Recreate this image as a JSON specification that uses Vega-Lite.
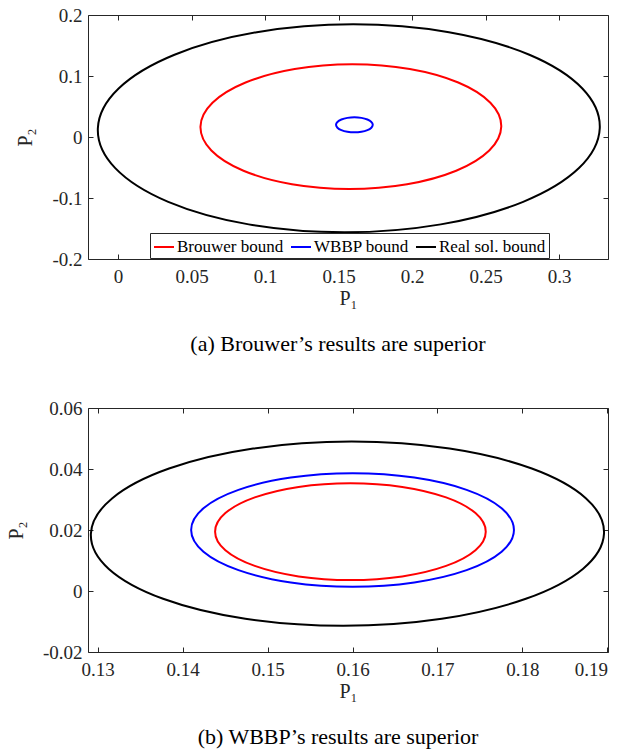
{
  "$schema": "https://vega.github.io/schema/vega-lite/v6.json",
  "background": "white",
  "padding": {"left": 5, "top": 5, "right": 5, "bottom": 5},
  "config": {
    "font": "'Liberation Serif', 'Times New Roman', Times, serif",
    "view": {"stroke": "#262626", "strokeWidth": 1},
    "axis": {
      "grid": false, "domain": false, "tickSize": -5, "tickColor": "#262626", "tickWidth": 1,
      "labelColor": "#262626", "labelFont": "'Liberation Serif', 'Times New Roman', Times, serif", "labelFontSize": 19,
      "titleFont": "'Liberation Serif', 'Times New Roman', Times, serif", "titleFontSize": 20, "titleFontWeight": "normal", "titleColor": "#262626"
    },
    "axisX": {"labelPadding": 13, "titlePadding": 2},
    "axisY": {"labelPadding": 11, "titlePadding": 16},
    "title": {"font": "'Liberation Serif', 'Times New Roman', Times, serif", "fontSize": 22, "fontWeight": "normal", "color": "#000000"}
  },
  "datasets": {
    "a": [
      {"bound": "Real sol. bound", "k": 0, "P1": 0.3277, "P2": 0.0143},
      {"bound": "Real sol. bound", "k": 1, "P1": 0.31586, "P2": 0.07955},
      {"bound": "Real sol. bound", "k": 2, "P1": 0.27982, "P2": 0.13486},
      {"bound": "Real sol. bound", "k": 3, "P1": 0.2251, "P2": 0.17182},
      {"bound": "Real sol. bound", "k": 4, "P1": 0.16, "P2": 0.1848},
      {"bound": "Real sol. bound", "k": 5, "P1": 0.09444, "P2": 0.17182},
      {"bound": "Real sol. bound", "k": 6, "P1": 0.03842, "P2": 0.13486},
      {"bound": "Real sol. bound", "k": 7, "P1": 0.00044, "P2": 0.07955},
      {"bound": "Real sol. bound", "k": 8, "P1": -0.0137, "P2": 0.0143},
      {"bound": "Real sol. bound", "k": 9, "P1": -0.00186, "P2": -0.05095},
      {"bound": "Real sol. bound", "k": 10, "P1": 0.03418, "P2": -0.10626},
      {"bound": "Real sol. bound", "k": 11, "P1": 0.0889, "P2": -0.14322},
      {"bound": "Real sol. bound", "k": 12, "P1": 0.154, "P2": -0.1562},
      {"bound": "Real sol. bound", "k": 13, "P1": 0.21956, "P2": -0.14322},
      {"bound": "Real sol. bound", "k": 14, "P1": 0.27558, "P2": -0.10626},
      {"bound": "Real sol. bound", "k": 15, "P1": 0.31356, "P2": -0.05095},
      {"bound": "Brouwer bound", "k": 0, "P1": 0.2607, "P2": 0.017},
      {"bound": "Brouwer bound", "k": 1, "P1": 0.25329, "P2": 0.05611},
      {"bound": "Brouwer bound", "k": 2, "P1": 0.23145, "P2": 0.08927},
      {"bound": "Brouwer bound", "k": 3, "P1": 0.19847, "P2": 0.11142},
      {"bound": "Brouwer bound", "k": 4, "P1": 0.1594, "P2": 0.1192},
      {"bound": "Brouwer bound", "k": 5, "P1": 0.12017, "P2": 0.11142},
      {"bound": "Brouwer bound", "k": 6, "P1": 0.08677, "P2": 0.08927},
      {"bound": "Brouwer bound", "k": 7, "P1": 0.06427, "P2": 0.05611},
      {"bound": "Brouwer bound", "k": 8, "P1": 0.0561, "P2": 0.017},
      {"bound": "Brouwer bound", "k": 9, "P1": 0.06351, "P2": -0.02211},
      {"bound": "Brouwer bound", "k": 10, "P1": 0.08535, "P2": -0.05527},
      {"bound": "Brouwer bound", "k": 11, "P1": 0.11833, "P2": -0.07742},
      {"bound": "Brouwer bound", "k": 12, "P1": 0.1574, "P2": -0.0852},
      {"bound": "Brouwer bound", "k": 13, "P1": 0.19663, "P2": -0.07742},
      {"bound": "Brouwer bound", "k": 14, "P1": 0.23003, "P2": -0.05527},
      {"bound": "Brouwer bound", "k": 15, "P1": 0.25253, "P2": -0.02211},
      {"bound": "WBBP bound", "k": 0, "P1": 0.1733, "P2": 0.02},
      {"bound": "WBBP bound", "k": 1, "P1": 0.17235, "P2": 0.02471},
      {"bound": "WBBP bound", "k": 2, "P1": 0.16964, "P2": 0.0287},
      {"bound": "WBBP bound", "k": 3, "P1": 0.16558, "P2": 0.03136},
      {"bound": "WBBP bound", "k": 4, "P1": 0.1608, "P2": 0.0323},
      {"bound": "WBBP bound", "k": 5, "P1": 0.15602, "P2": 0.03136},
      {"bound": "WBBP bound", "k": 6, "P1": 0.15196, "P2": 0.0287},
      {"bound": "WBBP bound", "k": 7, "P1": 0.14925, "P2": 0.02471},
      {"bound": "WBBP bound", "k": 8, "P1": 0.1483, "P2": 0.02},
      {"bound": "WBBP bound", "k": 9, "P1": 0.14925, "P2": 0.01529},
      {"bound": "WBBP bound", "k": 10, "P1": 0.15196, "P2": 0.0113},
      {"bound": "WBBP bound", "k": 11, "P1": 0.15602, "P2": 0.00864},
      {"bound": "WBBP bound", "k": 12, "P1": 0.1608, "P2": 0.0077},
      {"bound": "WBBP bound", "k": 13, "P1": 0.16558, "P2": 0.00864},
      {"bound": "WBBP bound", "k": 14, "P1": 0.16964, "P2": 0.0113},
      {"bound": "WBBP bound", "k": 15, "P1": 0.17235, "P2": 0.01529}
    ],
    "b": [
      {"bound": "Real sol. bound", "k": 0, "P1": 0.1896, "P2": 0.0188},
      {"bound": "Real sol. bound", "k": 1, "P1": 0.18749, "P2": 0.03036},
      {"bound": "Real sol. bound", "k": 2, "P1": 0.1811, "P2": 0.04015},
      {"bound": "Real sol. bound", "k": 3, "P1": 0.17142, "P2": 0.0467},
      {"bound": "Real sol. bound", "k": 4, "P1": 0.1599, "P2": 0.049},
      {"bound": "Real sol. bound", "k": 5, "P1": 0.1483, "P2": 0.0467},
      {"bound": "Real sol. bound", "k": 6, "P1": 0.1384, "P2": 0.04015},
      {"bound": "Real sol. bound", "k": 7, "P1": 0.13169, "P2": 0.03036},
      {"bound": "Real sol. bound", "k": 8, "P1": 0.1292, "P2": 0.0188},
      {"bound": "Real sol. bound", "k": 9, "P1": 0.13131, "P2": 0.00724},
      {"bound": "Real sol. bound", "k": 10, "P1": 0.1377, "P2": -0.00255},
      {"bound": "Real sol. bound", "k": 11, "P1": 0.14738, "P2": -0.0091},
      {"bound": "Real sol. bound", "k": 12, "P1": 0.1589, "P2": -0.0114},
      {"bound": "Real sol. bound", "k": 13, "P1": 0.1705, "P2": -0.0091},
      {"bound": "Real sol. bound", "k": 14, "P1": 0.1804, "P2": -0.00255},
      {"bound": "Real sol. bound", "k": 15, "P1": 0.18711, "P2": 0.00724},
      {"bound": "WBBP bound", "k": 0, "P1": 0.179, "P2": 0.02},
      {"bound": "WBBP bound", "k": 1, "P1": 0.17755, "P2": 0.02712},
      {"bound": "WBBP bound", "k": 2, "P1": 0.17343, "P2": 0.03315},
      {"bound": "WBBP bound", "k": 3, "P1": 0.16727, "P2": 0.03718},
      {"bound": "WBBP bound", "k": 4, "P1": 0.16, "P2": 0.0386},
      {"bound": "WBBP bound", "k": 5, "P1": 0.15273, "P2": 0.03718},
      {"bound": "WBBP bound", "k": 6, "P1": 0.14657, "P2": 0.03315},
      {"bound": "WBBP bound", "k": 7, "P1": 0.14245, "P2": 0.02712},
      {"bound": "WBBP bound", "k": 8, "P1": 0.141, "P2": 0.02},
      {"bound": "WBBP bound", "k": 9, "P1": 0.14245, "P2": 0.01288},
      {"bound": "WBBP bound", "k": 10, "P1": 0.14657, "P2": 0.00685},
      {"bound": "WBBP bound", "k": 11, "P1": 0.15273, "P2": 0.00282},
      {"bound": "WBBP bound", "k": 12, "P1": 0.16, "P2": 0.0014},
      {"bound": "WBBP bound", "k": 13, "P1": 0.16727, "P2": 0.00282},
      {"bound": "WBBP bound", "k": 14, "P1": 0.17343, "P2": 0.00685},
      {"bound": "WBBP bound", "k": 15, "P1": 0.17755, "P2": 0.01288},
      {"bound": "Brouwer bound", "k": 0, "P1": 0.17568, "P2": 0.01946},
      {"bound": "Brouwer bound", "k": 1, "P1": 0.17447, "P2": 0.02554},
      {"bound": "Brouwer bound", "k": 2, "P1": 0.17101, "P2": 0.03069},
      {"bound": "Brouwer bound", "k": 3, "P1": 0.16585, "P2": 0.03413},
      {"bound": "Brouwer bound", "k": 4, "P1": 0.15975, "P2": 0.03534},
      {"bound": "Brouwer bound", "k": 5, "P1": 0.15365, "P2": 0.03413},
      {"bound": "Brouwer bound", "k": 6, "P1": 0.14849, "P2": 0.03069},
      {"bound": "Brouwer bound", "k": 7, "P1": 0.14503, "P2": 0.02554},
      {"bound": "Brouwer bound", "k": 8, "P1": 0.14382, "P2": 0.01946},
      {"bound": "Brouwer bound", "k": 9, "P1": 0.14503, "P2": 0.01338},
      {"bound": "Brouwer bound", "k": 10, "P1": 0.14849, "P2": 0.00823},
      {"bound": "Brouwer bound", "k": 11, "P1": 0.15365, "P2": 0.00479},
      {"bound": "Brouwer bound", "k": 12, "P1": 0.15975, "P2": 0.00358},
      {"bound": "Brouwer bound", "k": 13, "P1": 0.16585, "P2": 0.00479},
      {"bound": "Brouwer bound", "k": 14, "P1": 0.17101, "P2": 0.00823},
      {"bound": "Brouwer bound", "k": 15, "P1": 0.17447, "P2": 0.01338}
    ]
  },
  "bounds": "flush",
  "spacing": 149,
  "resolve": {
    "scale": {"x": "independent", "y": "independent", "color": "independent"},
    "legend": {"color": "independent"}
  },
  "vconcat": [
    {
      "width": 520,
      "height": 244,
      "data": {"name": "a"},
      "title": {"text": "(a) Brouwer’s results are superior", "orient": "bottom", "anchor": "middle", "frame": "group", "offset": 26, "dx": -10},
      "layer": [
        {
          "mark": {"type": "line", "interpolate": "cardinal-closed", "strokeWidth": 2},
          "encoding": {
            "x": {"field": "P1", "type": "quantitative",
              "scale": {"domain": [-0.0204, 0.3333], "nice": false, "zero": false},
              "axis": {"orient": "bottom", "title": "P₁", "values": [0, 0.05, 0.1, 0.15, 0.2, 0.25, 0.3],
                "labelExpr": "datum.value < 0 ? '-' + format(-datum.value, '~g') : format(datum.value, '~g')"}},
            "y": {"field": "P2", "type": "quantitative",
              "scale": {"domain": [-0.2, 0.2], "nice": false, "zero": false},
              "axis": {"orient": "left", "title": "P₂", "values": [-0.2, -0.1, 0, 0.1, 0.2],
                "labelExpr": "datum.value < 0 ? '-' + format(-datum.value, '~g') : format(datum.value, '~g')"}},
            "color": {"field": "bound", "type": "nominal",
              "scale": {"domain": ["Brouwer bound", "WBBP bound", "Real sol. bound"], "range": ["#ff0000", "#0000ff", "#000000"]},
              "legend": {"title": null, "orient": "none", "legendX": 62, "legendY": 218, "direction": "horizontal", "columns": 3,
                "symbolType": "stroke", "symbolSize": 400, "symbolStrokeWidth": 2, "labelFont": "'Liberation Serif', 'Times New Roman', Times, serif",
                "labelFontSize": 17, "labelColor": "#000000", "labelOffset": 2, "columnPadding": 3, "padding": 3,
                "fillColor": "white", "strokeColor": "#262626", "labelLimit": 300}},
            "order": {"field": "k", "type": "quantitative"}
          }
        },
        {
          "mark": {"type": "line", "opacity": 0},
          "encoding": {
            "x": {"field": "P1", "type": "quantitative", "axis": {"orient": "top", "labels": false, "title": null, "values": [0, 0.05, 0.1, 0.15, 0.2, 0.25, 0.3]}},
            "y": {"field": "P2", "type": "quantitative", "axis": {"orient": "right", "labels": false, "title": null, "values": [-0.2, -0.1, 0, 0.1, 0.2]}},
            "detail": {"field": "bound", "type": "nominal"},
            "order": {"field": "k", "type": "quantitative"}
          }
        }
      ],
      "resolve": {"axis": {"x": "independent", "y": "independent"}}
    },
    {
      "width": 520,
      "height": 244,
      "data": {"name": "b"},
      "title": {"text": "(b) WBBP’s results are superior", "orient": "bottom", "anchor": "middle", "frame": "group", "offset": 26, "dx": -10},
      "layer": [
        {
          "mark": {"type": "line", "interpolate": "cardinal-closed", "strokeWidth": 2},
          "encoding": {
            "x": {"field": "P1", "type": "quantitative",
              "scale": {"domain": [0.12886, 0.19007], "nice": false, "zero": false},
              "axis": {"orient": "bottom", "title": "P₁", "values": [0.13, 0.14, 0.15, 0.16, 0.17, 0.18, 0.19],
                "labelExpr": "datum.value < 0 ? '-' + format(-datum.value, '~g') : format(datum.value, '~g')"}},
            "y": {"field": "P2", "type": "quantitative",
              "scale": {"domain": [-0.02, 0.06], "nice": false, "zero": false},
              "axis": {"orient": "left", "title": "P₂", "values": [-0.02, 0, 0.02, 0.04, 0.06],
                "labelExpr": "datum.value < 0 ? '-' + format(-datum.value, '~g') : format(datum.value, '~g')"}},
            "color": {"field": "bound", "type": "nominal",
              "scale": {"domain": ["Brouwer bound", "WBBP bound", "Real sol. bound"], "range": ["#ff0000", "#0000ff", "#000000"]},
              "legend": null},
            "order": {"field": "k", "type": "quantitative"}
          }
        },
        {
          "mark": {"type": "line", "opacity": 0},
          "encoding": {
            "x": {"field": "P1", "type": "quantitative", "axis": {"orient": "top", "labels": false, "title": null, "values": [0.13, 0.14, 0.15, 0.16, 0.17, 0.18, 0.19]}},
            "y": {"field": "P2", "type": "quantitative", "axis": {"orient": "right", "labels": false, "title": null, "values": [-0.02, 0, 0.02, 0.04, 0.06]}},
            "detail": {"field": "bound", "type": "nominal"},
            "order": {"field": "k", "type": "quantitative"}
          }
        }
      ],
      "resolve": {"axis": {"x": "independent", "y": "independent"}}
    }
  ]
}
